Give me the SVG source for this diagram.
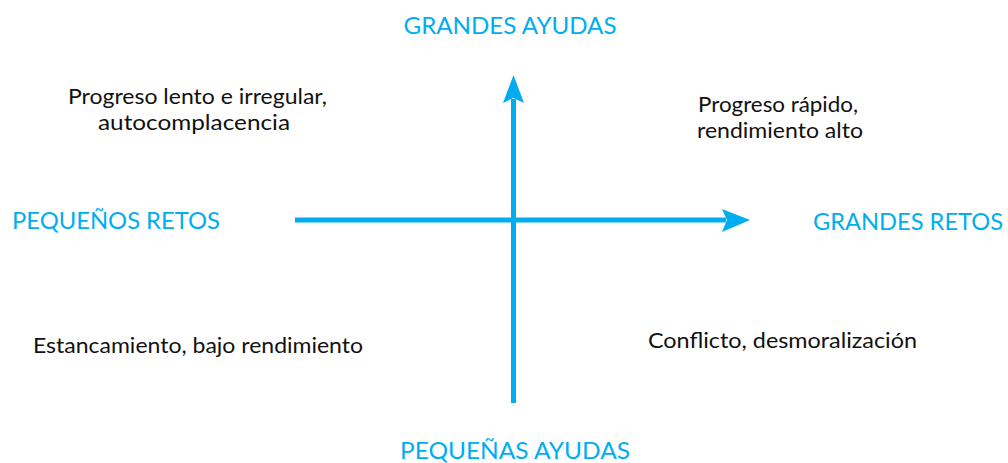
<svg xmlns="http://www.w3.org/2000/svg" width="1008" height="463" viewBox="0 0 1008 463">
<style>
.ax{font-family:"Lato","Open Sans",sans-serif;font-size:22.5px;fill:#00AEEF}
.lb{font-family:"Lato","Open Sans",sans-serif;font-size:21px;fill:#111}
.ln{stroke:#00AEEF;stroke-width:5;fill:none}
.hd{fill:#00AEEF}
</style>
<rect width="1008" height="463" fill="#fff"/>
<g id="connectors">
<line class="ln" x1="295" y1="220" x2="726" y2="220"/>
<polygon class="hd" points="750,220 722,209 727,220 722,232"/>
<line class="ln" x1="513.5" y1="403" x2="513.5" y2="99"/>
<polygon class="hd" points="513.5,75 503,103 513.5,98 524,103"/>
</g>
<g id="top"><text class="ax" x="510" y="34" text-anchor="middle" textLength="213" lengthAdjust="spacingAndGlyphs">GRANDES AYUDAS</text></g>
<g id="bottom"><text class="ax" x="400" y="459" textLength="230" lengthAdjust="spacingAndGlyphs">PEQUEÑAS AYUDAS</text></g>
<g id="left"><text class="ax" x="12" y="229" textLength="208" lengthAdjust="spacingAndGlyphs">PEQUEÑOS RETOS</text></g>
<g id="right"><text class="ax" x="813" y="230" textLength="190" lengthAdjust="spacingAndGlyphs">GRANDES RETOS</text></g>
<g id="q1"><text class="lb" x="68" y="104" textLength="259" lengthAdjust="spacingAndGlyphs">Progreso lento e irregular,</text><text class="lb" x="98" y="130" textLength="192" lengthAdjust="spacingAndGlyphs">autocomplacencia</text></g>
<g id="q2"><text class="lb" x="698" y="112" textLength="160" lengthAdjust="spacingAndGlyphs">Progreso rápido,</text><text class="lb" x="697" y="138" textLength="166" lengthAdjust="spacingAndGlyphs">rendimiento alto</text></g>
<g id="q3"><text class="lb" x="33" y="353" textLength="330" lengthAdjust="spacingAndGlyphs">Estancamiento, bajo rendimiento</text></g>
<g id="q4"><text class="lb" x="648" y="348" textLength="269" lengthAdjust="spacingAndGlyphs">Conflicto, desmoralización</text></g>
</svg>
